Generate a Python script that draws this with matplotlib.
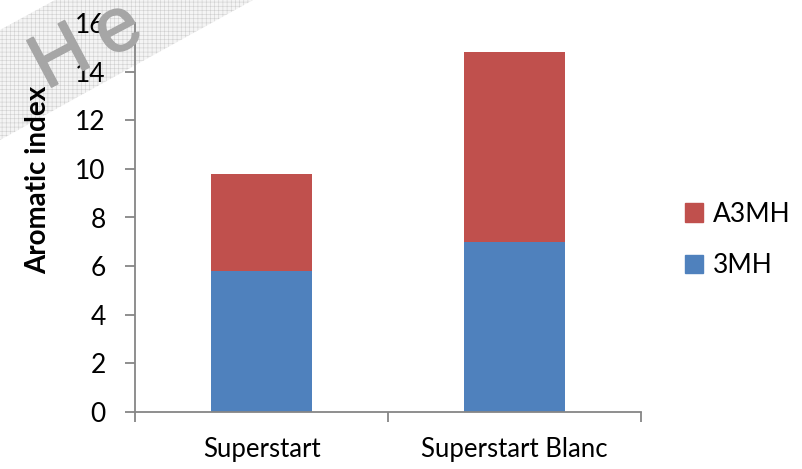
import numpy as np
import matplotlib
matplotlib.use("Agg")
import matplotlib.pyplot as plt
import matplotlib.patheffects as pe
from matplotlib.patches import Polygon, Patch

plt.rcParams['font.family'] = ['Lato', 'DejaVu Sans']
plt.rcParams['hatch.linewidth'] = 0.4

# data
categories = ["Superstart", "Superstart Blanc"]
mh3 = [5.8, 7.0]
a3mh = [4.0, 7.8]
series_names = ["3MH", "A3MH"]
colors = ["#4f81bd", "#c0504d"]
yticks = [0, 2, 4, 6, 8, 10, 12, 14, 16]

W, H = 802, 469
fig = plt.figure(figsize=(W / 100, H / 100), dpi=100)
ax = fig.add_axes([135 / W, 1 - 412 / H, (641 - 135) / W, (412 - 23) / H])
ax.set_facecolor("none")

x = np.arange(len(categories))
ax.bar(x, mh3, width=0.4, color=colors[0], label=series_names[0])
ax.bar(x, a3mh, width=0.4, bottom=mh3, color=colors[1], label=series_names[1])

ax.set_xlim(-0.5, len(categories) - 0.5)
ax.set_ylim(0, 16)
ax.set_yticks(yticks)
ax.set_xticks(x)
ax.set_xticklabels(categories)
ax.set_xticks(np.arange(len(categories) + 1) - 0.5, minor=True)

grey = "#868686"
for s in ["top", "right"]:
    ax.spines[s].set_visible(False)
for s in ["left", "bottom"]:
    ax.spines[s].set_color(grey)
    ax.spines[s].set_linewidth(1.3)

ax.tick_params(axis="y", length=7, width=1.3, color=grey, pad=14, labelsize=19)
ax.tick_params(axis="x", which="major", length=0, pad=18, labelsize=18.5)
ax.tick_params(axis="x", which="minor", length=7, width=1.3, color=grey)

fig.text(38 / W, 1 - 180 / H, "Aromatic index", rotation=90, fontsize=20,
         fontweight="bold", ha="center", va="center")

handles = [Patch(color=colors[1]), Patch(color=colors[0])]
ax.legend(handles, [series_names[1], series_names[0]], frameon=False,
          loc="center left", bbox_to_anchor=(661 / W, 1 - 240 / H),
          bbox_transform=fig.transFigure, fontsize=19, handlelength=0.7,
          handleheight=0.7, handletextpad=0.35, labelspacing=1.0)

# watermark: hatched band and rotated grey letters in the top left corner
band = [(0, 30), (55, 0), (253, 0), (0, 140)]
band = [(px / W, 1 - py / H) for px, py in band]
fig.patches.append(Polygon(band, closed=True, transform=fig.transFigure,
                           facecolor="#f4f4f4", edgecolor="#cfcfcf",
                           hatch="++++", linewidth=0, zorder=-1))
wm_grey = "#a6a6a6"
for ch, (px, py) in [("H", (46, 90)), ("e", (109, 58))]:
    fig.text(px / W, 1 - py / H, ch, rotation=28, rotation_mode="anchor",
             fontsize=55, color=wm_grey, family="Liberation Sans",
             ha="left", va="baseline", zorder=5,
             path_effects=[pe.withStroke(linewidth=1.2, foreground=wm_grey)])

fig.savefig("out.png", dpi=100)
